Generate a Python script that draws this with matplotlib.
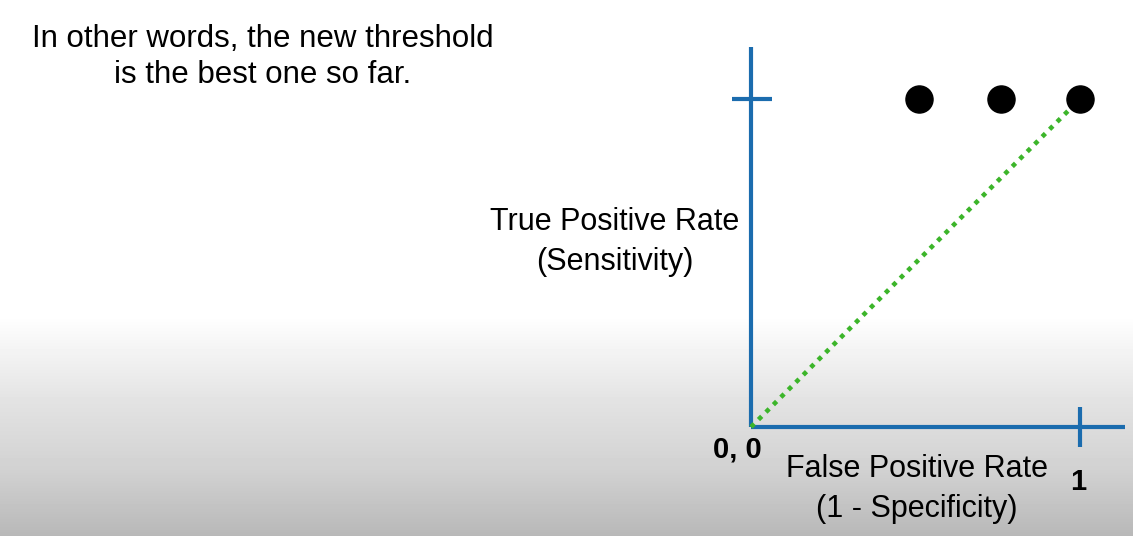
import numpy as np
import matplotlib.pyplot as plt

# ROC points (false positive rate, true positive rate)
fpr = [0.51, 0.76, 1.0]
tpr = [1.0, 1.0, 1.0]
diag_x = [0, 0.97]
diag_y = [0, 0.97]

blue = "#1b6cae"
green = "#3cb52a"
plt.rcParams['font.family'] = ['Liberation Sans', 'DejaVu Sans']

fig = plt.figure(figsize=(11.33, 5.36), dpi=100)

# background: white on top, grey fade at bottom
bg = fig.add_axes([0, 0, 1, 1])
rows = np.arange(536)
shade = np.interp(rows, [0, 315, 400, 470, 536], [1.0, 1.0, 0.89, 0.82, 0.72])
img = np.repeat(shade[:, None], 2, axis=1)
bg.imshow(img, cmap="gray", vmin=0, vmax=1, aspect="auto", extent=[0, 1, 0, 1])
bg.axis("off")

W, H = 1133, 536
x0, ux = 751, 329
y0, uy = 427, 328
ax = fig.add_axes([x0 / W, (H - y0) / H, ux / W, uy / H])
ax.set_xlim(0, 1)
ax.set_ylim(0, 1)
ax.axis("off")
ax.patch.set_alpha(0)

lw = 3.0
ax.plot([0, (1125 - x0) / ux], [0, 0], color=blue, lw=lw, clip_on=False, solid_capstyle="butt")
ax.plot([0, 0], [0, (y0 - 47) / uy], color=blue, lw=lw, clip_on=False, solid_capstyle="butt")
ax.plot([-0.058, 0.064], [1, 1], color=blue, lw=lw, clip_on=False, solid_capstyle="butt")
ax.plot([1, 1], [-0.061, 0.061], color=blue, lw=lw, clip_on=False, solid_capstyle="butt")

ax.plot(diag_x, diag_y, color=green, lw=3.3, linestyle=(0, (1.0, 1.3)), clip_on=False)
ax.plot(fpr, tpr, "o", color="black", markersize=19.5, clip_on=False, zorder=5)

fig.text(263 / W, 1 - 57 / H, "In other words, the new threshold\nis the best one so far.",
         ha="center", va="center", fontsize=22.5, linespacing=1.27)
fig.text(615 / W, 1 - 242 / H, "True Positive Rate\n(Sensitivity)",
         ha="center", va="center", fontsize=22, linespacing=1.47)
fig.text(917 / W, 1 - 489 / H, "False Positive Rate\n(1 - Specificity)",
         ha="center", va="center", fontsize=22, linespacing=1.43)
fig.text(737 / W, 1 - 449 / H, "0, 0", ha="center", va="center", fontsize=21, fontweight="bold")
fig.text(1078 / W, 1 - 482 / H, "1", ha="center", va="center", fontsize=21, fontweight="bold")

fig.savefig("out.png", dpi=100)
